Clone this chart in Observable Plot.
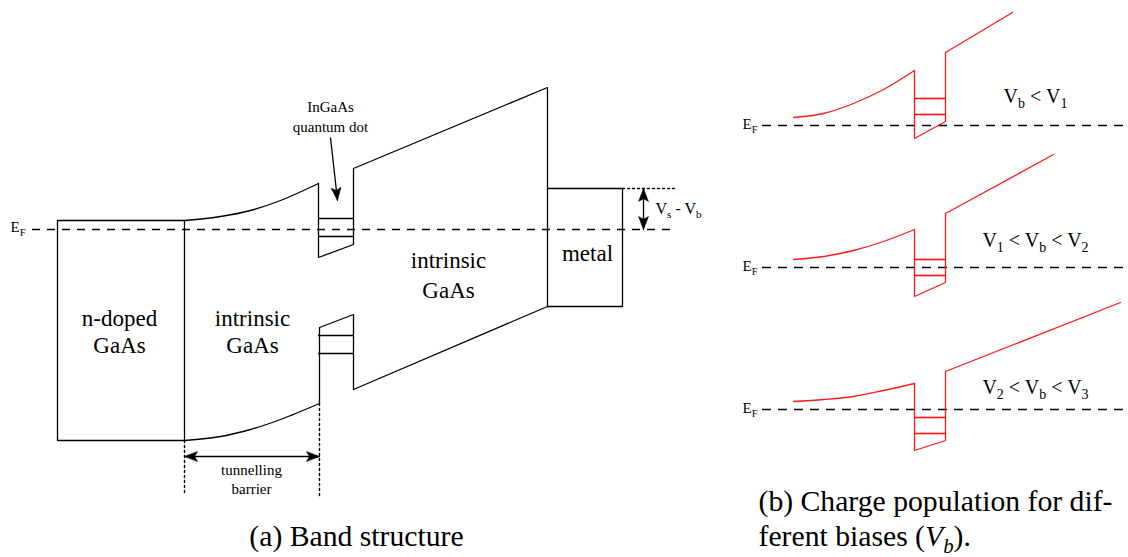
<!DOCTYPE html>
<html><head><meta charset="utf-8">
<script src="https://cdn.jsdelivr.net/npm/d3@7"></script>
<script src="https://cdn.jsdelivr.net/npm/@observablehq/plot@0.6"></script>
<style>
html,body{margin:0;padding:0;background:#fff}
svg{display:block}
#chart svg, #chart svg g, #chart svg text, #chart svg tspan{font-family:"Liberation Serif","Times New Roman",Times,"DejaVu Serif",serif !important}
</style>
</head><body><div id="chart"></div>
<script>
// ================= DATA (diagram units: x to the right, y = drawn energy, downwards) =================
// Panel (a): band structure
const nDopedBox      = [[57,220],[184,220],[184,440],[57,440],[57,220]];
const upperBarrier   = [[184,220],[220,216],[250,210],[280,200],[318,183]];
const lowerBarrier   = [[184,440],[220,436],[250,429],[280,419],[319,403]];
const upperDot       = [[318,183],[318,257],[353,244],[353,168]];
const lowerDot       = [[319,403],[319,327],[353,314],[353,389]];
const intrinsicRight = [[353,168],[547,87],[547,306],[353,389]];
const metalBox       = [[547,188],[622,188],[622,306],[547,306]];
const dotLevelsA     = [218, 236, 335, 353];
const dotEdgesA      = [318, 353];
const fermiA         = [229];
const fermiSpanA     = [32, 675];
const guidesA        = [[[184,440],[184,495]], [[319,403],[319,495]], [[622,188],[675,188]]];
const arrowsA = [
  {x1:330, y1:137, x2:337, y2:200, both:false},   // quantum dot pointer
  {x1:643, y1:188, x2:643, y2:229, both:true},    // Vs - Vb
  {x1:184, y1:456, x2:319, y2:456, both:true}     // tunnelling barrier
];

// Panel (b): charge population for three biases
const biasLabels = ["V_b < V_1", "V_1 < V_b < V_2", "V_2 < V_b < V_3"];
const biasLabelY = [96, 240, 387];
const fermiB     = [125, 267, 409];
const fermiSpanB = [762, 1128];
const barrierB = [
  [[793,117],[823,113],[853,103],[883,89],[914,70]],
  [[793,259],[823,256],[853,250],[883,241],[914,229]],
  [[793,401],[823,399],[853,396],[883,390],[914,383]]
];
const dotB = [
  [[914,70],[914,138],[945,121],[945,52]],
  [[914,229],[914,296],[945,282],[945,213]],
  [[914,383],[914,450],[945,440],[945,371]]
];
const intrinsicB = [
  [[945,52],[1012,12]],
  [[945,213],[1053,154]],
  [[945,371],[1120,302]]
];
const levelsB   = [[98,114],[259,275],[417,433]];
const dotEdgesB = [914, 945];

// Text
const regionLabels = [
  {x:119, y:318, text:"n-doped"}, {x:119, y:345, text:"GaAs"},
  {x:252, y:318, text:"intrinsic"}, {x:252, y:345, text:"GaAs"},
  {x:448, y:260, text:"intrinsic"}, {x:448, y:290, text:"GaAs"},
  {x:587, y:253, text:"metal"}
];
const smallLabels = [
  {x:330, y:107, text:"InGaAs"}, {x:330, y:127, text:"quantum dot"},
  {x:251, y:470, text:"tunnelling"}, {x:251, y:489, text:"barrier"}
];
const vsLabel = [{x:655, y:208, text:"V_s - V_b"}];
const fermiLabels = [
  {x:10, y:227, text:"E_F"},
  {x:742, y:124, text:"E_F"}, {x:742, y:266, text:"E_F"}, {x:742, y:408, text:"E_F"}
];
const captionCentered = [{x:356, y:545, text:"(a) Band structure"}];
const captionLeft = [
  {x:758, y:510, text:"(b) Charge population for dif-"},
  {x:758, y:545, text:"ferent biases (*V_b*)."}
];

// ================= DRAWING =================
const serif = "Liberation Serif";
const ink = "#000", red = "#ff1a1a", lw = 1.3;
const head = {len: 13, half: 5};

const flat = paths => paths.flatMap((pts, i) => pts.map(([x, y]) => ({x, y, id: i})));

function arrowHeads(arrows) {
  const polys = [];
  const mk = (tx, ty, fx, fy) => {
    const dx = tx - fx, dy = ty - fy, L = Math.hypot(dx, dy);
    const ux = dx / L, uy = dy / L, px = -uy, py = ux;
    const bx = tx - ux * head.len, by = ty - uy * head.len;
    const nx = tx - ux * head.len * 0.78, ny = ty - uy * head.len * 0.78;
    polys.push([[tx,ty],[bx+px*head.half,by+py*head.half],[nx,ny],[bx-px*head.half,by-py*head.half],[tx,ty]]);
  };
  for (const a of arrows) {
    mk(a.x2, a.y2, a.x1, a.y1);
    if (a.both) mk(a.x1, a.y1, a.x2, a.y2);
  }
  return polys;
}

const bLevels = levelsB.flat();
const biasText = biasLabels.map((t, i) => ({x: 1035, y: biasLabelY[i], text: t}));

const chart = Plot.plot({
  width: 1128, height: 557, margin: 0,
  x: {domain: [0, 1128], axis: null},
  y: {domain: [0, 557], axis: null, reverse: true},
  style: {background: "#fff"},
  marks: [
    // Fermi levels
    Plot.ruleY(fermiA, {y: d => d, x1: fermiSpanA[0], x2: fermiSpanA[1], stroke: ink, strokeWidth: lw, strokeDasharray: "8,7"}),
    Plot.ruleY(fermiB, {y: d => d, x1: fermiSpanB[0], x2: fermiSpanB[1], stroke: ink, strokeWidth: lw, strokeDasharray: "9,7"}),
    // Panel (a)
    Plot.line(flat([nDopedBox, upperDot, lowerDot, intrinsicRight, metalBox]),
      {x: "x", y: "y", z: "id", stroke: ink, strokeWidth: lw, strokeLinejoin: "miter"}),
    Plot.line(flat([upperBarrier, lowerBarrier]),
      {x: "x", y: "y", z: "id", stroke: ink, strokeWidth: lw, curve: "catmull-rom"}),
    Plot.ruleY(dotLevelsA, {y: d => d, x1: dotEdgesA[0], x2: dotEdgesA[1], stroke: ink, strokeWidth: lw * 1.3}),
    Plot.line(flat(guidesA), {x: "x", y: "y", z: "id", stroke: ink, strokeWidth: 1.4, strokeDasharray: "2,3"}),
    Plot.link(arrowsA, {x1: "x1", y1: "y1", x2: "x2", y2: "y2", stroke: ink, strokeWidth: lw}),
    Plot.line(flat(arrowHeads(arrowsA)), {x: "x", y: "y", z: "id", fill: ink, stroke: ink, strokeWidth: 0.5}),
    // Panel (b)
    Plot.line(flat(barrierB), {x: "x", y: "y", z: "id", stroke: red, strokeWidth: lw, curve: "catmull-rom"}),
    Plot.line(flat([...dotB, ...intrinsicB]), {x: "x", y: "y", z: "id", stroke: red, strokeWidth: lw, strokeLinejoin: "miter"}),
    Plot.ruleY(bLevels, {y: d => d, x1: dotEdgesB[0], x2: dotEdgesB[1], stroke: red, strokeWidth: lw * 1.3}),
    // Text
    Plot.text(regionLabels, {x: "x", y: "y", text: "text", fontSize: 23, fontFamily: serif, fill: ink}),
    Plot.text(smallLabels, {x: "x", y: "y", text: "text", fontSize: 15, fontFamily: serif, fill: ink}),
    Plot.text(vsLabel, {x: "x", y: "y", text: "text", fontSize: 16, fontFamily: serif, fill: ink, textAnchor: "start"}),
    Plot.text(fermiLabels, {x: "x", y: "y", text: "text", fontSize: 15, fontFamily: serif, fill: ink, textAnchor: "start"}),
    Plot.text(biasText, {x: "x", y: "y", text: "text", fontSize: 20, fontFamily: serif, fill: ink}),
    Plot.text(captionCentered, {x: "x", y: "y", text: "text", fontSize: 29.7, fontFamily: serif, fill: ink, lineAnchor: "bottom"}),
    Plot.text(captionLeft, {x: "x", y: "y", text: "text", fontSize: 29.7, fontFamily: serif, fill: ink, lineAnchor: "bottom", textAnchor: "start"})
  ]
});
document.getElementById("chart").appendChild(chart);

// Render "_x" as subscript and "*...*" as italic, keeping real text
d3.select(chart).selectAll("text").each(function () {
  const s = this.textContent;
  if (!/[_*]/.test(s)) return;
  const fs = parseFloat(getComputedStyle(this).fontSize);
  const runs = []; let it = false, buf = "";
  const push = (t, sub) => { if (t) runs.push({t, sub, it}); };
  for (let i = 0; i < s.length; i++) {
    const c = s[i];
    if (c === "*") { push(buf, false); buf = ""; it = !it; continue; }
    if (c === "_") { push(buf, false); buf = ""; push(s[i + 1], true); i++; continue; }
    buf += c;
  }
  push(buf, false);
  this.textContent = "";
  let shifted = false;
  for (const r of runs) {
    const ts = d3.select(this).append("tspan").text(r.t);
    if (r.it) ts.attr("font-style", "italic");
    if (r.sub) { ts.attr("font-size", fs * 0.7).attr("dy", fs * 0.25); shifted = true; }
    else if (shifted) { ts.attr("dy", -fs * 0.25); shifted = false; }
  }
});
</script>
</body></html>
